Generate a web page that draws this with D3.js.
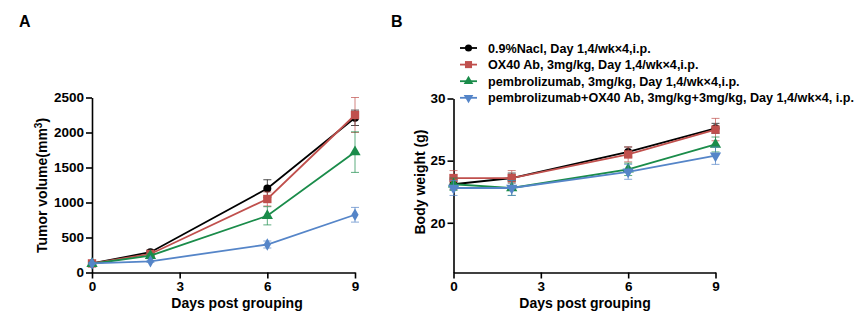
<!DOCTYPE html>
<html><head><meta charset="utf-8">
<script src="https://cdn.jsdelivr.net/npm/d3@7"></script>
<style>
body{margin:0;background:#fff;}
text{font-family:"Liberation Sans",Arial,sans-serif;font-weight:bold;}
</style></head>
<body><svg id="c" width="860" height="328"></svg>
<script>
const days = [0, 2, 6, 9];
const seriesNames = ["0.9%Nacl, Day 1,4/wk×4,i.p.", "OX40 Ab, 3mg/kg, Day 1,4/wk×4,i.p.", "pembrolizumab, 3mg/kg, Day 1,4/wk×4,i.p.", "pembrolizumab+OX40 Ab, 3mg/kg+3mg/kg, Day 1,4/wk×4, i.p."];
const colors = ["#000000", "#C0504D", "#1A8C4A", "#5585C8"];
const tumorNacl = [130, 290, 1200, 2210];
const tumorNaclSem = [15, 30, 125, 110];
const tumorOx40 = [130, 265, 1050, 2250];
const tumorOx40Sem = [15, 25, 100, 250];
const tumorPembro = [125, 240, 810, 1720];
const tumorPembroSem = [15, 25, 130, 290];
const tumorCombo = [130, 160, 400, 825];
const tumorComboSem = [10, 15, 50, 105];
const weightNacl = [23.1, 23.6, 25.7, 27.6];
const weightNaclSem = [0.4, 0.4, 0.4, 0.4];
const weightOx40 = [23.6, 23.6, 25.5, 27.5];
const weightOx40Sem = [0.6, 0.6, 0.6, 0.9];
const weightPembro = [23.1, 22.8, 24.3, 26.3];
const weightPembroSem = [0.5, 0.6, 0.5, 0.6];
const weightCombo = [22.8, 22.8, 24.1, 25.4];
const weightComboSem = [0.6, 0.6, 0.6, 0.7];
const xTicks = [0, 3, 6, 9];
const tumorTicks = [0, 500, 1000, 1500, 2000, 2500];
const weightTicks = [20, 25, 30];

const svg = d3.select("#c");

function panel(opts) {
  const x = d3.scaleLinear().domain([0, 9]).range(opts.xr);
  const y = d3.scaleLinear().domain(opts.yd).range(opts.yr);
  const g = svg.append("g");
  const ya = g.append("g").attr("transform", `translate(${opts.xr[0]},0)`)
    .call(d3.axisLeft(y).tickValues(opts.yticks).tickFormat(d3.format("d")).tickSize(6).tickPadding(2).tickSizeOuter(0));
  const xa = g.append("g").attr("transform", `translate(0,${opts.yr[0]})`)
    .call(d3.axisBottom(x).tickValues(xTicks).tickFormat(d3.format("d")).tickSize(6).tickPadding(3).tickSizeOuter(0));
  [ya, xa].forEach(a => {
    a.select(".domain").attr("stroke", "#000").attr("stroke-width", 1.6);
    a.selectAll(".tick line").attr("stroke", "#000").attr("stroke-width", 1.6);
    a.selectAll("text").attr("font-size", 13.5).attr("fill", "#000");
  });
  const sym = opts.symbols;
  const line = d3.line().x((d, i) => x(days[i])).y(d => y(d));
  opts.series.forEach((s, k) => {
    const c = colors[k];
    const sg = g.append("g");
    s.v.forEach((v, i) => {
      const cx = x(days[i]);
      const y1 = y(v + s.e[i]), y2 = y(v - s.e[i]);
      sg.append("line").attr("x1", cx).attr("x2", cx).attr("y1", y1).attr("y2", y2)
        .attr("stroke", c).attr("stroke-width", 1).attr("opacity", 0.7);
      [y1, y2].forEach(yy => sg.append("line").attr("x1", cx - 4).attr("x2", cx + 4).attr("y1", yy).attr("y2", yy)
        .attr("stroke", c).attr("stroke-width", 1).attr("opacity", 0.7));
    });
    sg.append("path").datum(s.v).attr("d", line).attr("fill", "none").attr("stroke", c).attr("stroke-width", 1.8);
    sg.selectAll("path.m").data(s.v).enter().append("path").attr("class", "m")
      .attr("d", d3.symbol().type(sym[k].t).size(sym[k].s))
      .attr("transform", (d, i) => `translate(${x(days[i])},${y(d)})` + (sym[k].r ? " rotate(180)" : ""))
      .attr("fill", c);
  });
  g.append("text").attr("x", opts.xtx).attr("y", 308).attr("text-anchor", "middle")
    .attr("font-size", 14).text("Days post grouping");
  const yt = g.append("text").attr("transform", `translate(${opts.ytx},${opts.yty}) rotate(-90)`)
    .attr("text-anchor", "middle").attr("font-size", 14);
  opts.ytitle(yt);
  g.append("text").attr("x", opts.lx).attr("y", 27).attr("font-size", 16).text(opts.label);
  return { x, y };
}

panel({
  xr: [92, 355], yr: [272.5, 97.5], yd: [0, 2500], yticks: tumorTicks, ytx: 47, yty: 185.5, xtx: 237, lx: 19, label: "A",
  series: [{ v: tumorNacl, e: tumorNaclSem }, { v: tumorOx40, e: tumorOx40Sem }, { v: tumorPembro, e: tumorPembroSem }, { v: tumorCombo, e: tumorComboSem }],
  symbols: [{ t: d3.symbolCircle, s: 50 }, { t: d3.symbolSquare, s: 70 }, { t: d3.symbolTriangle, s: 55 }, { t: d3.symbolDiamond, s: 45 }],
  ytitle: t => { t.append("tspan").text("Tumor volume(mm"); t.append("tspan").attr("baseline-shift", "super").attr("font-size", 10).text("3"); t.append("tspan").text(")"); }
});

panel({
  xr: [453.5, 715.5], yr: [272.5, 98.5], yd: [16, 30], yticks: weightTicks, ytx: 425, yty: 182, xtx: 585, lx: 391, label: "B",
  series: [{ v: weightNacl, e: weightNaclSem }, { v: weightOx40, e: weightOx40Sem }, { v: weightPembro, e: weightPembroSem }, { v: weightCombo, e: weightComboSem }],
  symbols: [{ t: d3.symbolCircle, s: 50 }, { t: d3.symbolSquare, s: 70 }, { t: d3.symbolTriangle, s: 55 }, { t: d3.symbolTriangle, s: 55, r: true }],
  ytitle: t => t.text("Body weight (g)")
});

const lsym = [{ t: d3.symbolCircle, s: 40 }, { t: d3.symbolSquare, s: 50 }, { t: d3.symbolTriangle, s: 40 }, { t: d3.symbolTriangle, s: 40, r: true }];
const lg = svg.append("g");
seriesNames.forEach((n, k) => {
  const yy = 48 + k * 16.6;
  lg.append("line").attr("x1", 460).attr("x2", 477).attr("y1", yy).attr("y2", yy).attr("stroke", colors[k]).attr("stroke-width", 1.8);
  lg.append("path").attr("d", d3.symbol().type(lsym[k].t).size(lsym[k].s)())
    .attr("transform", `translate(468.5,${yy})` + (lsym[k].r ? " rotate(180)" : "")).attr("fill", colors[k]);
  lg.append("text").attr("x", 488).attr("y", yy + 4.5).attr("font-size", 12.6).text(n);
});
</script></body></html>
